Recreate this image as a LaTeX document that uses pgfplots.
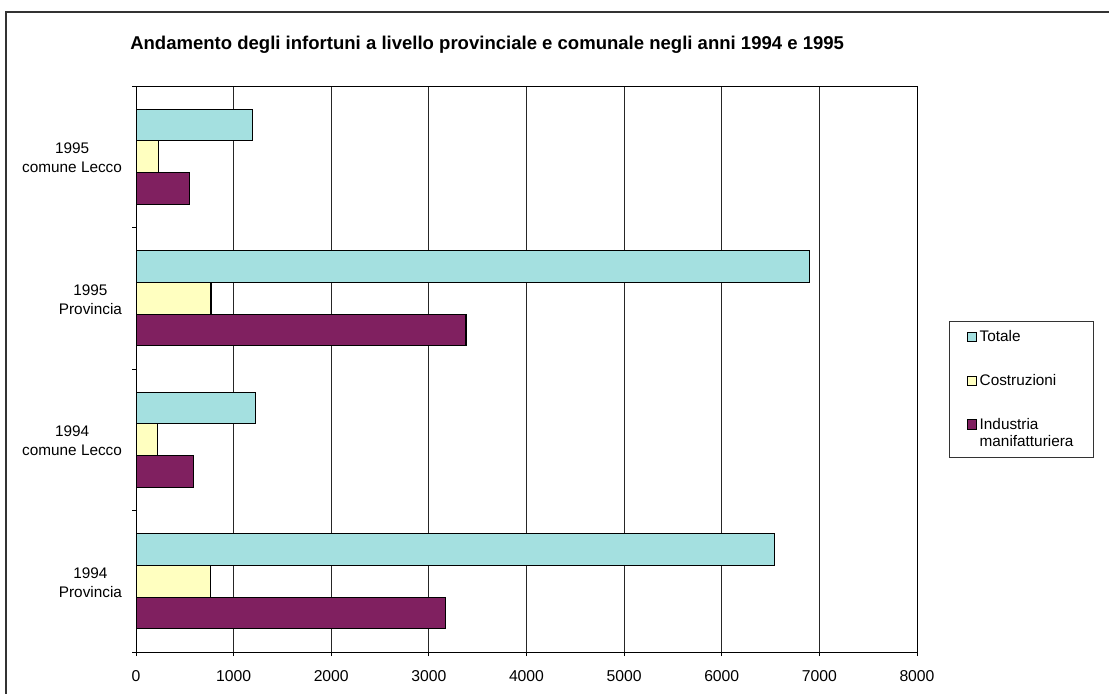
\documentclass[border=0pt]{standalone}
\usepackage{fontspec}
\setmainfont{Liberation Sans}
\usepackage{pgfplots}
\pgfplotsset{compat=1.18}
\definecolor{tot}{RGB}{164,224,224}
\definecolor{cos}{RGB}{255,255,192}
\definecolor{ind}{RGB}{128,32,96}
\begin{document}
\begin{tikzpicture}
\useasboundingbox (0,0) rectangle (831.75pt,-519.75pt);
\begin{scope}
\clip (0,0) rectangle (831.75pt,-519.75pt);
\draw[black!80, line width=1.2pt] (4.5pt,-900pt) -- (4.5pt,-9pt) -- (900pt,-9pt);
\end{scope}
\node[anchor=west, inner sep=0pt, font=\fontsize{13.9}{16}\selectfont\bfseries] at (97.5pt,-33.75pt) {Andamento degli infortuni a livello provinciale e comunale negli anni 1994 e 1995};
\begin{axis}[
 at={(102pt,-64.5pt)}, anchor=north west,
 scale only axis, width=585.75pt, height=424.5pt,
 xbar, bar width=23.8pt,
 xmin=0, xmax=8000, ymin=-0.5, ymax=3.5,
 xtick={0,1000,...,8000},
 scaled x ticks=false,
 xmajorgrids, grid style={black!85, line width=0.7pt},
 ytick={-0.5,0.5,1.5,2.5,3.5}, yticklabels={},
 extra y ticks={0,1,2,3},
 extra y tick labels={{1994\\Provincia},{1994\\comune Lecco},{1995\\Provincia},{1995\\comune Lecco}},
 extra y tick style={tick style={draw=none}, grid=none},
 yticklabel style={align=center, font=\fontsize{11.5}{14.2}\selectfont, xshift=-4pt, yshift=-1pt},
 xticklabel style={font=\fontsize{11.8}{14}\selectfont, yshift=-7.5pt},
 /pgf/number format/1000 sep={},
 /pgf/number format/assume math mode=true,
 tick align=outside, major tick length=3pt,
 xtick pos=bottom, ytick pos=left,
 axis line style={black, line width=0.7pt},
 tick style={black, line width=0.6pt},
 reverse legend,
 legend cell align=left,
 legend image code/.code={\draw[#1, draw=black, line width=0.6pt] (0pt,-3.6pt) rectangle (7.2pt,3.6pt);},
 legend style={at={(1.041,0.585)}, anchor=north west, draw=black!80,
   font=\fontsize{11.5}{12.8}\selectfont, row sep=19pt, inner xsep=13pt, inner ysep=5pt,
   cells={anchor=west, align=left}},
]
\addplot[fill=ind, draw=black, line width=0.8pt, bar shift=-23.8pt,
  legend image code/.code={\draw[fill=ind, draw=black, line width=0.6pt] (0pt,2.8pt) rectangle (7.2pt,10pt);}]
  coordinates {(3175,0) (590,1) (3380,2) (552,3)};
\addplot[fill=cos, draw=black, line width=0.8pt, bar shift=0pt] coordinates {(760,0) (222,1) (768,2) (228,3)};
\addplot[fill=tot, draw=black, line width=0.8pt, bar shift=23.8pt] coordinates {(6540,0) (1220,1) (6895,2) (1195,3)};
\addlegendentry{Industria\\manifatturiera}
\addlegendentry{Costruzioni}
\addlegendentry{Totale}
\end{axis}
\end{tikzpicture}
\end{document}
